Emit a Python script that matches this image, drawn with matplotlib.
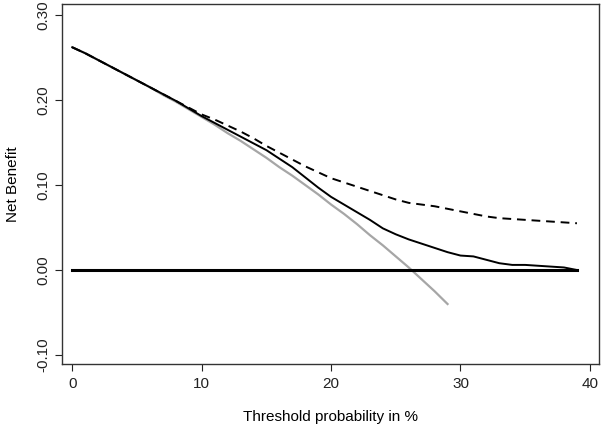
import matplotlib
matplotlib.use("Agg")
import matplotlib.pyplot as plt

plt.rcParams['font.family'] = ['Liberation Sans', 'DejaVu Sans']

# threshold probability in %
thresholds = list(range(0, 40))

# model net benefit (solid black)
model = [0.262, 0.255, 0.247, 0.239, 0.231, 0.223, 0.215, 0.207, 0.199, 0.190,
         0.181, 0.173, 0.165, 0.157, 0.149, 0.141, 0.131, 0.121, 0.109, 0.097,
         0.086, 0.077, 0.068, 0.059, 0.049, 0.042, 0.036, 0.031, 0.026, 0.021,
         0.017, 0.016, 0.012, 0.008, 0.006, 0.006, 0.005, 0.004, 0.003, 0.000]

# second model (dashed)
model2 = [0.262, 0.255, 0.247, 0.239, 0.231, 0.223, 0.215, 0.207, 0.199, 0.191,
          0.183, 0.177, 0.170, 0.163, 0.155, 0.146, 0.138, 0.130, 0.122, 0.115,
          0.108, 0.103, 0.098, 0.093, 0.088, 0.083, 0.079, 0.077, 0.075, 0.072,
          0.069, 0.066, 0.063, 0.061, 0.060, 0.059, 0.058, 0.057, 0.056, 0.055]

# treat all (grey)
all_x = list(range(0, 30))
treat_all = [0.262, 0.255, 0.247, 0.239, 0.231, 0.223, 0.215, 0.206, 0.198, 0.189,
             0.180, 0.171, 0.161, 0.152, 0.142, 0.132, 0.121, 0.111, 0.100, 0.089,
             0.077, 0.066, 0.054, 0.041, 0.029, 0.016, 0.003, -0.011, -0.025, -0.040]

# treat none
none_x = [0, 39]
treat_none = [0, 0]

fig = plt.figure(figsize=(6.01, 4.26), dpi=100)
ax = fig.add_axes([0.1027, 0.1455, 0.8945, 0.8444])

ax.plot(all_x, treat_all, color='#a6a6a6', lw=1.6)
ax.plot(thresholds, model2, color='black', lw=1.4, dashes=(4.5, 3))
ax.plot(thresholds, model, color='black', lw=1.4)
ax.plot(none_x, treat_none, color='black', lw=2.2)

ax.set_xlim(-0.82, 40.73)
ax.set_ylim(-0.1106, 0.3126)
ax.set_xticks([0, 10, 20, 30, 40])
ax.set_yticks([-0.1, 0.0, 0.1, 0.2, 0.3])
ax.set_yticklabels(['-0.10', '0.00', '0.10', '0.20', '0.30'], rotation=90, va='center')
ax.tick_params(direction='out', length=5, width=0.8, labelsize=11, colors='#222222')
ax.tick_params(axis='y', pad=3)
ax.tick_params(axis='x', pad=4)
for s in ax.spines.values():
    s.set_color('#333333')
    s.set_linewidth(1.0)

ax.set_xlabel('Threshold probability in %', fontsize=11, labelpad=14)
ax.set_ylabel('Net Benefit', fontsize=11, labelpad=12)

fig.savefig('out.png', dpi=100)
